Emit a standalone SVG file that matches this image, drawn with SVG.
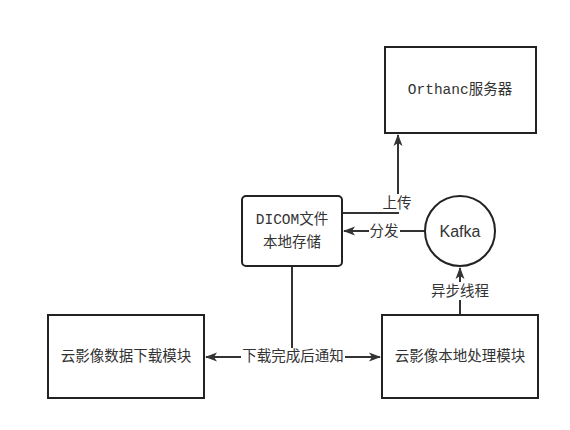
<svg xmlns="http://www.w3.org/2000/svg" width="570" height="430" viewBox="0 0 570 430">
<style>
.box{fill:#fff;stroke:#222;stroke-width:2}
.edge{fill:none;stroke:#333;stroke-width:2}
.t{font-family:"Liberation Mono","Noto Sans CJK SC",monospace;font-size:14.5px;fill:#333;text-anchor:middle;dominant-baseline:central}
.s{font-family:"Liberation Sans","Noto Sans CJK SC",sans-serif;font-size:14.5px;fill:#333;text-anchor:middle;dominant-baseline:central}
.k{font-size:16px}
.lbl{fill:#fff}
</style>
<defs>
<marker id="arr" viewBox="0 0 12 10" refX="11" refY="5" markerWidth="12" markerHeight="10" markerUnits="userSpaceOnUse" orient="auto">
<path d="M0,0.5 L12,5 L0,9.5 L3,5 Z" fill="#333"/>
</marker>
</defs>
<rect width="570" height="430" fill="#fff"/>
<g id="connectors">
<path class="edge" d="M342,213 H398 V135" marker-end="url(#arr)"/>
<path class="edge" d="M425,231 H344" marker-end="url(#arr)"/>
<path class="edge" d="M460,315 V268" marker-end="url(#arr)"/>
<path class="edge" d="M292,266 V357"/>
<path class="edge" d="M292,357 H206" marker-end="url(#arr)"/>
<path class="edge" d="M292,357 H380" marker-end="url(#arr)"/>
<rect class="lbl" x="382" y="194" width="31" height="18"/>
<text class="s" x="397" y="203">上传</text>
<rect class="lbl" x="369" y="222" width="31" height="18"/>
<text class="s" x="384" y="231">分发</text>
<rect class="lbl" x="430" y="282" width="60" height="18"/>
<text class="s" x="460" y="291">异步线程</text>
<rect class="lbl" x="241" y="348" width="104" height="18"/>
<text class="s" x="293" y="356">下载完成后通知</text>
</g>
<g id="orthanc">
<rect class="box" x="385" y="47" width="151" height="86"/>
<text class="t" x="460" y="90">Orthanc服务器</text>
</g>
<g id="dicom">
<rect class="box" x="242" y="196" width="100" height="70" rx="4"/>
<text class="t" x="292" y="220">DICOM文件</text>
<text class="t" x="292" y="243">本地存储</text>
</g>
<g id="kafka">
<circle class="box" cx="460" cy="231" r="35"/>
<text class="s k" x="460" y="231">Kafka</text>
</g>
<g id="download">
<rect class="box" x="48" y="315" width="156" height="83"/>
<text class="t" x="126" y="357">云影像数据下载模块</text>
</g>
<g id="process">
<rect class="box" x="382" y="315" width="156" height="83"/>
<text class="t" x="460" y="357">云影像本地处理模块</text>
</g>
</svg>
